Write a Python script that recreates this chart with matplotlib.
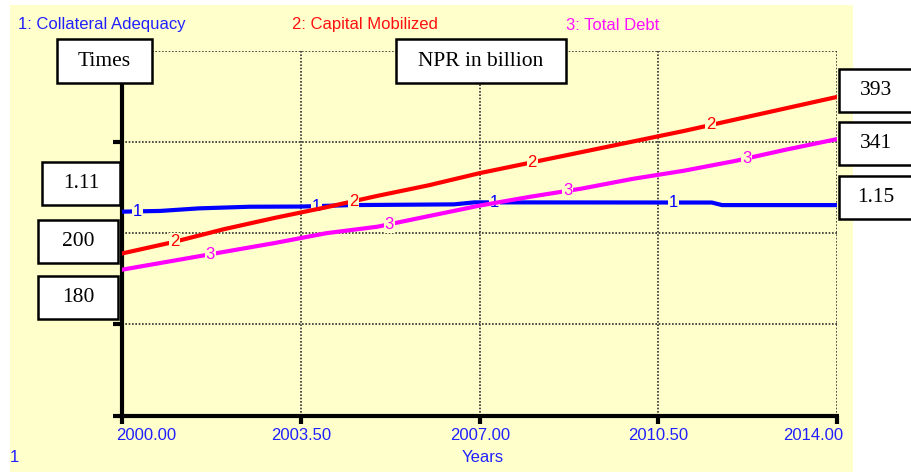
import numpy as np
import matplotlib
matplotlib.use("Agg")
from matplotlib import pyplot as plt
from matplotlib.patches import Rectangle

# data
years = [2000, 2001, 2002, 2003, 2004, 2005, 2006, 2007, 2008, 2009, 2010, 2011, 2012, 2013, 2014]
capital_mobilized = [200, 214, 230, 244, 257, 271, 284, 299, 312, 325, 338, 351, 365, 379, 393]
total_debt = [180, 191, 202, 213, 225, 233, 246, 259, 270, 280, 292, 302, 314, 328, 341]

ca_years = [2000, 2000.75, 2001.5, 2002.5, 2003.5, 2004.5, 2006.5, 2006.9, 2011.55, 2011.75, 2014]
collateral_adequacy = [1.118, 1.122, 1.136, 1.145, 1.146, 1.154, 1.158, 1.169, 1.168, 1.154, 1.154]

x_ticks = [2000.0, 2003.5, 2007.0, 2010.5, 2014.0]
x_labels = ["2000.00", "2003.50", "2007.00", "2010.50", "2014.00"]

# box annotations: (text, left, top, right, bottom) in pixels
boxes = [("Times", 57, 39, 152, 83),
         ("NPR in billion", 396, 39, 566, 83),
         ("1.11", 42, 162, 120, 205),
         ("200", 38, 220, 118, 263),
         ("180", 38, 276, 118, 319),
         ("393", 839, 69, 930, 112),
         ("341", 839, 122, 930, 165),
         ("1.15", 839, 176, 930, 219)]

W, H = 912, 472
BG = "#FFFFCC"
BLUE = "#0000FF"
RED = "#FF0000"
MAG = "#FF00FF"
TXT_BLUE = "#2020FF"
SANS = "Liberation Sans"
SERIF = "Liberation Serif"
FS = 12


def fx(x):
    return x / W


def fy(y):
    return 1 - y / H


fig = plt.figure(figsize=(W / 100, H / 100), dpi=100)
fig.patch.set_facecolor("white")
fig.patches.append(Rectangle((fx(10), 0), fx(853) - fx(10), fy(5), transform=fig.transFigure,
                             facecolor=BG, edgecolor="none", zorder=-1))

ax = fig.add_axes([fx(122), fy(415.7), fx(837) - fx(122), (415.7 - 50.7) / H])
ax.set_facecolor("none")
ax2 = ax.twinx()
ax.set_xlim(2000, 2014)
ax.set_ylim(0, 2)
ax2.set_ylim(0, 450)
for a in (ax, ax2):
    for s in a.spines.values():
        s.set_visible(False)
ax.set_yticks([])
ax2.set_yticks([])

# grid
grid_style = dict(color="#303030", lw=1.2, ls=(0, (1, 1)), zorder=1)
for xv in x_ticks[1:]:
    ax.axvline(xv, **grid_style)
for yv in [0.5, 1.0, 1.5, 2.0]:
    ax.axhline(yv, **grid_style)

# axes lines and ticks
ax.plot([-0.0126, 1.003], [0, 0], transform=ax.transAxes, color="black", lw=3, clip_on=False, zorder=3, solid_capstyle="butt")
ax.plot([0, 0], [0, 1], transform=ax.transAxes, color="black", lw=3, clip_on=False, zorder=3, solid_capstyle="butt")
for yf in [0.25, 0.75]:
    ax.plot([-0.0126, 0], [yf, yf], transform=ax.transAxes, color="black", lw=3, clip_on=False, zorder=3, solid_capstyle="butt")

ax.set_xticks(x_ticks)
ax.set_xticklabels([])
ax.tick_params(axis="x", direction="out", length=5.5, width=3, color="black")

# tick labels, first one left-ish, last one right-aligned like the original
label_x = [146, 301, 480, 658, 813]
for lx, text in zip(label_x, x_labels):
    fig.text(fx(lx), fy(436), text, color=TXT_BLUE, fontsize=FS, family=SANS, ha="center", va="center")

# series
ax.plot(ca_years, collateral_adequacy, color=BLUE, lw=3, zorder=4)
ax2.plot(years, capital_mobilized, color=RED, lw=3, zorder=4)
ax2.plot(years, total_debt, color=MAG, lw=3, zorder=4)

# numbered markers on the lines
lab_style = dict(ha="center", va="center", fontsize=FS, family=SANS, zorder=6,
                 bbox=dict(facecolor=BG, edgecolor="none", pad=0.6))
for k in range(4):
    t1 = 2000.3 + 3.5 * k
    ax.text(t1, np.interp(t1, ca_years, collateral_adequacy), "1", color=BLUE, **lab_style)
    t2 = 2001.03 + 3.5 * k
    ax2.text(t2, np.interp(t2, years, capital_mobilized), "2", color=RED, **lab_style)
    t3 = 2001.73 + 3.5 * k
    ax2.text(t3, np.interp(t3, years, total_debt), "3", color=MAG, **lab_style)

# legend line
fig.text(fx(18), fy(25), "1: Collateral Adequacy", color=TXT_BLUE, fontsize=FS, family=SANS, va="center")
fig.text(fx(292), fy(25), "2: Capital Mobilized", color="#FF1010", fontsize=FS, family=SANS, va="center")
fig.text(fx(566), fy(25), "3: Total Debt", color="#FF10FF", fontsize=FS, family=SANS, va="center")

fig.text(fx(483), fy(457), "Years", color=TXT_BLUE, fontsize=FS, family=SANS, ha="center", va="center")
fig.text(fx(14), fy(457), "1", color=TXT_BLUE, fontsize=FS, family=SANS, ha="center", va="center")

# annotation boxes
for text, x0, y0, x1, y1 in boxes:
    fig.patches.append(Rectangle((fx(x0), fy(y1)), fx(x1) - fx(x0), fy(y0) - fy(y1), transform=fig.transFigure,
                                 facecolor="white", edgecolor="black", lw=1.8, zorder=5))
    cx = (x0 + 913) / 2 if x1 > W else (x0 + x1) / 2
    fig.text(fx(cx), fy((y0 + y1) / 2), text, fontsize=15.5, family=SERIF, ha="center", va="center", zorder=6)

fig.savefig("out.png", dpi=100, facecolor=fig.get_facecolor())
